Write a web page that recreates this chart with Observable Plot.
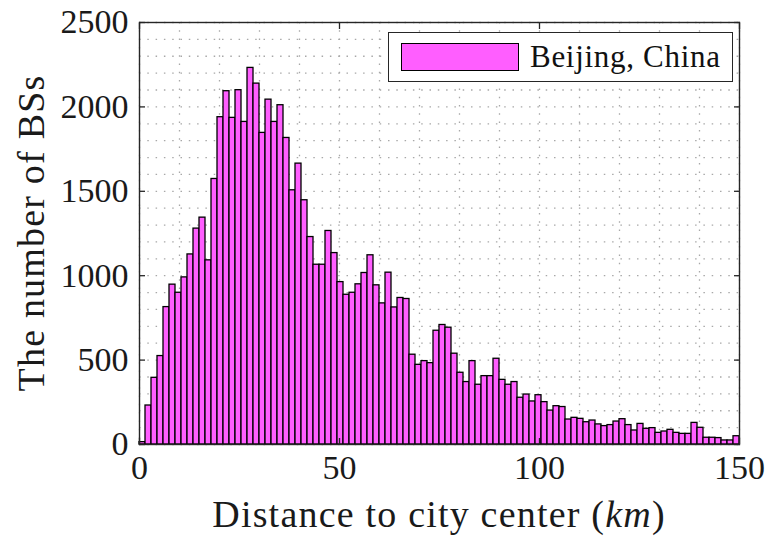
<!DOCTYPE html>
<html>
<head>
<meta charset="utf-8">
<script src="https://cdn.jsdelivr.net/npm/d3@7"></script>
<script src="https://cdn.jsdelivr.net/npm/@observablehq/plot@0.6"></script>
<style>
  body { margin: 0; background: #fff; }
  #wrap { position: relative; width: 771px; height: 540px; font-family: "Liberation Serif", "Times New Roman", "DejaVu Serif", serif; color: #262626; }
  #legend { position: absolute; left: 388px; top: 32px; width: 345px; height: 50px; box-sizing: border-box;
            border: 1.4px solid #262626; background: #fff; display: flex; align-items: center; }
  #legend .sw { margin-left: 12px; width: 118px; height: 28px; box-sizing: border-box; border: 1.6px solid #000; }
  #legend .lt { margin-left: 11px; font-size: 31px; letter-spacing: 0.7px; color: #111; white-space: nowrap; font-family: "Liberation Serif", "Times New Roman", "DejaVu Serif", serif; }
  svg text { font-family: "Liberation Serif", "Times New Roman", "DejaVu Serif", serif; }
</style>
</head>
<body>
<div id="wrap"></div>
<script>
// ---- data ----
const binWidth = 1.5;            // km per bin
const counts = [
  14, 231, 395, 524, 814, 947, 899, 990, 1126, 1279,
  1344, 1091, 1573, 1939, 2093, 1935, 2099, 1911, 2231, 2138,
  1846, 2043, 1911, 2010, 1816, 1506, 1664, 1447, 1229, 1065,
  1065, 1265, 1134, 962, 887, 899, 949, 1016, 1121, 943,
  836, 1018, 812, 868, 862, 532, 472, 494, 482, 674,
  708, 692, 538, 425, 370, 494, 354, 405, 405, 508,
  383, 354, 370, 277, 296, 255, 292, 251, 201, 227,
  222, 148, 158, 152, 132, 142, 119, 109, 115, 136,
  150, 115, 83, 122, 93, 97, 69, 77, 87, 69,
  63, 63, 128, 99, 40, 40, 38, 24, 24, 49
];
const xTicks = [0, 50, 100, 150];
const yTicks = [0, 500, 1000, 1500, 2000, 2500];
const xGrid = [0, 10, 20, 30, 40, 50, 60, 70, 80, 90, 100, 110, 120, 130, 140, 150];
const yGrid = [0, 100, 200, 300, 400, 500, 600, 700, 800, 900, 1000, 1100, 1200, 1300, 1400, 1500,
               1600, 1700, 1800, 1900, 2000, 2100, 2200, 2300, 2400, 2500];
const seriesName = "Beijing, China";
const xLabelMain = "Distance to city center (";
const xLabelUnit = "km";
const yLabel = "The number of BSs";

const fillColor = "#ff5eff";
const axisColor = "#262626";
const serif = "'Liberation Serif', 'Times New Roman', 'DejaVu Serif', serif";

const bins = counts.map((c, i) => ({ x1: i * binWidth, x2: (i + 1) * binWidth, count: c }));

const gridStyle = { stroke: "#a8a8a8", strokeDasharray: "1.5,6.8", strokeWidth: 1.3 };
const plain = d => String(d);

const plot = Plot.plot({
  width: 771,
  height: 540,
  marginLeft: 139,
  marginRight: 32,
  marginTop: 22,
  marginBottom: 96,
  x: { domain: [0, 150] },
  y: { domain: [0, 2500] },
  style: { fontFamily: serif, fontSize: "34px", color: axisColor, background: "white", overflow: "visible" },
  marks: [
    Plot.ruleX(xGrid, gridStyle),
    Plot.ruleY(yGrid, gridStyle),
    Plot.rectY(bins, { x1: "x1", x2: "x2", y: "count", fill: fillColor, stroke: "#000", strokeWidth: 1.3, inset: 0 }),
    Plot.axisX({ ticks: xTicks, tickSize: 0, tickPadding: 10, tickFormat: plain, label: null, fontSize: 34, fill: "#1a1a1a" }),
    Plot.axisY({ ticks: yTicks, tickSize: 0, tickPadding: 11, tickFormat: plain, label: null, fontSize: 34, fill: "#1a1a1a" }),
    Plot.axisX({ anchor: "bottom", ticks: xTicks, tickSize: -6, tickFormat: () => "", label: null, stroke: axisColor, strokeWidth: 1.3 }),
    Plot.axisX({ anchor: "top", ticks: xTicks, tickSize: -6, tickFormat: () => "", label: null, stroke: axisColor, strokeWidth: 1.3 }),
    Plot.axisY({ anchor: "left", ticks: yTicks, tickSize: -6, tickFormat: () => "", label: null, stroke: axisColor, strokeWidth: 1.3 }),
    Plot.axisY({ anchor: "right", ticks: yTicks, tickSize: -6, tickFormat: () => "", label: null, stroke: axisColor, strokeWidth: 1.3 }),
    Plot.frame({ stroke: axisColor, strokeWidth: 1.4 })
  ]
});

document.getElementById("wrap").appendChild(plot);

// axis labels (with italic unit), placed from the plot's scales
const sx = plot.scale("x"), sy = plot.scale("y");
const cx = (sx.range[0] + sx.range[1]) / 2;
const cy = (sy.range[0] + sy.range[1]) / 2;
const svg = d3.select(plot);
const xl = svg.append("text")
  .attr("x", cx).attr("y", sy.range[0] + 83)
  .attr("text-anchor", "middle")
  .style("font-family", serif).style("font-size", "38px")
  .style("letter-spacing", "1.2px").attr("fill", "#1a1a1a");
xl.append("tspan").text(xLabelMain);
xl.append("tspan").style("font-style", "italic").text(xLabelUnit);
xl.append("tspan").text(")");

svg.append("text")
  .attr("transform", `translate(${sx.range[0] - 95},${cy}) rotate(-90)`)
  .attr("text-anchor", "middle")
  .style("font-family", serif).style("font-size", "38px")
  .style("letter-spacing", "1.2px").attr("fill", "#1a1a1a")
  .text(yLabel);

// legend
const lg = document.createElement("div");
lg.id = "legend";
lg.innerHTML = `<div class="sw" style="background:${fillColor}"></div><div class="lt">${seriesName}</div>`;
document.getElementById("wrap").appendChild(lg);
</script>
</body>
</html>
